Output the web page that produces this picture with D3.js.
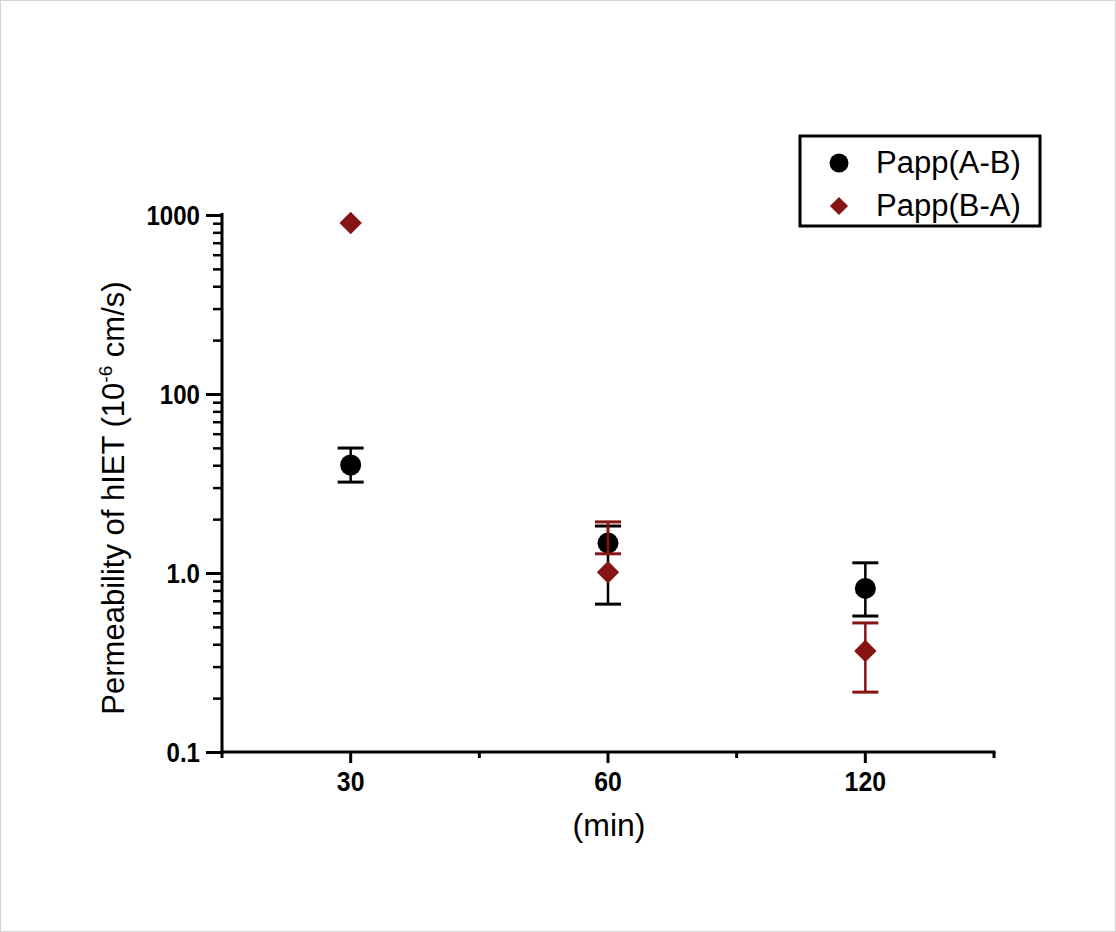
<!doctype html>
<html>
<head>
  <meta charset="utf-8">
  <script src="https://d3js.org/d3.v7.min.js"></script>
  <style>
    body { margin: 0; background: #fff; }
    text { font-family: "Liberation Sans", Arial, sans-serif; }
  </style>
</head>
<body>
<script>

  // time points (min)
  var times = ["30", "60", "120"];

  // Papp(A-B), black circles
  var abValues = [4.01, 1.47, 0.82];
  var abLow    = [3.22, 0.67, 0.575];
  var abHigh   = [4.99, 1.83, 1.14];

  // Papp(B-A), dark red diamonds
  var baValues = [90.2, 1.01, 0.367];
  var baLow    = [90.2, 1.28, 0.216];
  var baHigh   = [90.2, 1.93, 0.526];

  // y ticks as printed on the chart
  var yTickValues = [0.1, 1, 10, 100];
  var yTickLabels = ["0.1", "1.0", "100", "1000"];

  var seriesNames = ["Papp(A-B)", "Papp(B-A)"];

  var W = 1116, H = 932;
  var red = "#861414";

  var svg = d3.select("body").append("svg")
      .attr("width", W)
      .attr("height", H);

  // light frame round the picture
  svg.append("rect")
      .attr("x", 0.5).attr("y", 0.5)
      .attr("width", W - 1).attr("height", H - 1)
      .attr("fill", "#fff")
      .attr("stroke", "#d4d4d4");

  // scales
  var x = d3.scaleLinear()
      .domain([0.5, 3.5])
      .range([222, 994]);

  var y = d3.scaleLog()
      .domain([0.1, 100])
      .range([752, 215]);

  // minor log ticks: 2..9 inside each decade
  var minor = [];
  yTickValues.slice(0, -1).forEach(function (d) {
    d3.range(2, 10).forEach(function (k) { minor.push(d * k); });
  });

  var yMinor = svg.append("g")
      .attr("transform", "translate(222,0)")
      .call(d3.axisLeft(y).tickValues(minor).tickSize(9).tickFormat(""));
  yMinor.select(".domain").remove();
  yMinor.selectAll("line").attr("stroke", "#000").attr("stroke-width", 2.5);

  var yMajor = svg.append("g")
      .attr("transform", "translate(222,0)")
      .call(d3.axisLeft(y).tickValues(yTickValues).tickSize(16).tickPadding(0)
        .tickFormat(function (d, i) { return yTickLabels[i]; }));
  yMajor.select(".domain").remove();
  yMajor.selectAll("line").attr("stroke", "#000").attr("stroke-width", 3);
  // labels are a bit condensed in the original, so squeeze them sideways
  yMajor.selectAll("text")
      .attr("x", null)
      .attr("dy", null)
      .attr("transform", "translate(-22,0) scale(0.86,1)")
      .attr("dominant-baseline", "central")
      .attr("text-anchor", "end")
      .attr("font-size", 28)
      .attr("font-weight", "bold")
      .attr("font-family", "'Liberation Sans', Arial, sans-serif")
      .attr("fill", "#000");

  svg.append("line")
      .attr("x1", 222).attr("x2", 222)
      .attr("y1", y(100) - 2).attr("y2", 758)
      .attr("stroke", "#000")
      .attr("stroke-width", 3);

  // x axis
  var xAxis = svg.append("g").attr("class", "x-axis");

  xAxis.append("line")
      .attr("x1", x(0.5)).attr("x2", x(3.5) + 1.5)
      .attr("y1", 752).attr("y2", 752)
      .attr("stroke", "#000")
      .attr("stroke-width", 3);

  xAxis.selectAll("line.major")
      .data(times)
      .enter().append("line")
      .attr("class", "major")
      .attr("x1", function (d, i) { return x(i + 1); })
      .attr("x2", function (d, i) { return x(i + 1); })
      .attr("y1", 752).attr("y2", 763)
      .attr("stroke", "#000")
      .attr("stroke-width", 3);

  xAxis.selectAll("line.minor")
      .data([1.5, 2.5, 3.5])
      .enter().append("line")
      .attr("class", "minor")
      .attr("x1", function (d) { return x(d); })
      .attr("x2", function (d) { return x(d); })
      .attr("y1", 752).attr("y2", 758)
      .attr("stroke", "#000")
      .attr("stroke-width", 3);

  xAxis.selectAll("text")
      .data(times)
      .enter().append("text")
      .attr("transform", function (d, i) {
        return "translate(" + x(i + 1) + ",791) scale(0.92,1)";
      })
      .attr("text-anchor", "middle")
      .attr("font-size", 27)
      .attr("font-weight", "bold")
      .text(function (d) { return d; });

  // axis titles
  var yTitle = svg.append("text")
      .attr("transform", "translate(124,498) rotate(-90)")
      .attr("text-anchor", "middle")
      .attr("font-size", 31);
  yTitle.append("tspan").text("Permeability of hIET (10");
  yTitle.append("tspan").attr("font-size", 19).attr("dy", -12).text("-6");
  yTitle.append("tspan").attr("dy", 12).text(" cm/s)");

  svg.append("text")
      .attr("x", 609)
      .attr("y", 836)
      .attr("text-anchor", "middle")
      .attr("font-family", "'Open Sans', sans-serif")
      .attr("font-size", 32)
      .text("(min)");

  // error bars (drawn before the markers)
  function drawErrors(cls, values, low, high, color) {
    var g = svg.append("g").attr("class", cls);
    values.forEach(function (d, i) {
      if (low[i] === high[i]) return;
      var cx = x(i + 1);
      g.append("line")
          .attr("x1", cx).attr("x2", cx)
          .attr("y1", y(high[i])).attr("y2", y(low[i]))
          .attr("stroke", color).attr("stroke-width", 2.5);
      [low[i], high[i]].forEach(function (v) {
        g.append("line")
            .attr("x1", cx - 13).attr("x2", cx + 13)
            .attr("y1", y(v)).attr("y2", y(v))
            .attr("stroke", color).attr("stroke-width", 3);
      });
    });
    return g;
  }

  var abG = drawErrors("ab", abValues, abLow, abHigh, "#000");
  abG.selectAll("circle")
      .data(abValues)
      .enter().append("circle")
      .attr("cx", function (d, i) { return x(i + 1); })
      .attr("cy", function (d) { return y(d); })
      .attr("r", 10.5)
      .attr("fill", "#000");

  var baG = drawErrors("ba", baValues, baLow, baHigh, red);
  var diamond = d3.symbol().type(d3.symbolDiamond2).size(320);
  baG.selectAll("path.mark")
      .data(baValues)
      .enter().append("path")
      .attr("class", "mark")
      .attr("d", diamond)
      .attr("transform", function (d, i) {
        return "translate(" + x(i + 1) + "," + y(d) + ")";
      })
      .attr("fill", red);

  // legend
  var legend = svg.append("g").attr("class", "legend");
  legend.append("rect")
      .attr("x", 800).attr("y", 136)
      .attr("width", 240).attr("height", 90)
      .attr("fill", "#fff")
      .attr("stroke", "#000")
      .attr("stroke-width", 3);

  legend.append("circle")
      .attr("cx", 839).attr("cy", 163)
      .attr("r", 9.5)
      .attr("fill", "#000");
  legend.append("path")
      .attr("d", d3.symbol().type(d3.symbolDiamond2).size(210))
      .attr("transform", "translate(839,206)")
      .attr("fill", red);

  legend.selectAll("text")
      .data(seriesNames)
      .enter().append("text")
      .attr("x", 876)
      .attr("y", function (d, i) { return 173 + i * 43; })
      .attr("font-size", 31)
      .text(function (d) { return d; });

</script>
</body>
</html>
